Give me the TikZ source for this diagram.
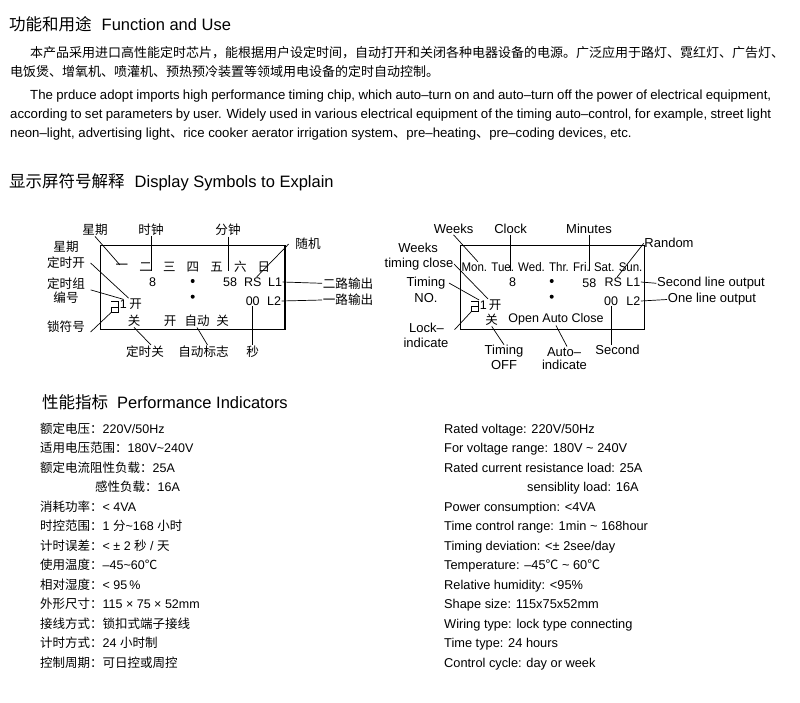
\documentclass[tikz,border=0pt]{standalone}
\usepackage{fontspec}
\setmainfont{Liberation Sans}
\newfontfamily\cjk{Noto Sans CJK SC}
\newfontfamily\narrow[FakeStretch=0.92]{Liberation Sans}

\newcommand*{\rowtop}{433.3}
\newcommand*{\rowgap}{19.5}
\newcommand*{\lockglyph}[1]{%
	\draw[lead] (#1.north west) -- (#1.north east) -- (#1.south east)
		-- (#1.south west) -- (#1.west) -- (#1.east);}
\newcommand*{\tightspace}{\spaceskip=0.278em plus 0.3em minus 0.16em}

\begin{document}
\begin{tikzpicture}
[
	x=1pt, y=-1pt,
	head/.style={anchor=base west, inner sep=0pt, font=\fontsize{16.5}{20}\selectfont},
	body/.style={anchor=base west, inner sep=0pt, font=\fontsize{13.2}{19}\selectfont},
	item/.style={anchor=base west, inner sep=0pt, font=\fontsize{12.5}{15}\selectfont},
	zhlab/.style={inner sep=0.5pt, font=\cjk\fontsize{12.6}{15}\selectfont},
	enlab/.style={inner sep=0.5pt, font=\fontsize{13}{15}\selectfont},
	zhlcd/.style={inner sep=0.5pt, font=\cjk\fontsize{12.5}{15}\selectfont},
	enlcd/.style={inner sep=0.5pt, font=\fontsize{12.5}{15}\selectfont},
	screen/.style={draw, line width=1.1pt, minimum width=184.3pt, minimum height=83.6pt, inner sep=0pt},
	dot/.style={circle, fill, inner sep=0pt, minimum size=4pt},
	lockmark/.style={minimum width=6.7pt, minimum height=10pt, inner sep=0pt},
	lead/.style={line width=0.7pt}
]

	\useasboundingbox (0,0) rectangle (800,703);

	% function and use
	\node[head] (fnhead) at (9,31) {{\cjk 功能和用途}\hspace{10pt}Function and Use};
	\node[body, font=\cjk\fontsize{13}{19}\selectfont] (zhpar1) at (30,57.4)
		{本产品采用进口高性能定时芯片，能根据用户设定时间，自动打开和关闭各种电器设备的电源。广泛应用于路灯、霓红灯、广告灯、};
	\node[body, font=\cjk\fontsize{13}{19}\selectfont] (zhpar2) at (10,77)
		{电饭煲、增氧机、喷灌机、预热预冷装置等领域用电设备的定时自动控制。};
	\node[body] (enpar1) at (30,99.5)
		{\hbox to 741pt{\tightspace The prduce adopt imports high performance timing chip, which auto–turn on and auto–turn off the power of electrical equipment,}};
	\node[body] (enpar2) at (10,118.5)
		{\hbox to 761pt{\tightspace according to set parameters by user. Widely used in various electrical equipment of the timing auto–control, for example, street light}};
	\node[body] (enpar3) at (10,137.5)
		{neon–light, advertising light{\cjk 、}rice cooker aerator irrigation system{\cjk 、}pre–heating{\cjk 、}pre–coding devices, etc.};

	% display symbols
	\node[head] (dshead) at (9,187.3) {{\cjk 显示屏符号解释}\hspace{10pt}Display Symbols to Explain};

	% left screen
	\node[screen] (lcdL) at (192.85,287.5) {};
	\foreach \d [count=\i] in {一,二,三,四,五,六,日}
		\node[zhlcd] (wd\i) at ({98.3+23.67*\i},267) {\d};
	\node[enlcd] (e8L) at (152.7,282) {8};
	\node[dot] (d1L) at (192.7,281) {};
	\node[enlcd] (m58L) at (230,282) {58};
	\node[enlcd] (rsL) at (252.7,282) {RS};
	\node[enlcd] (l1L) at (275,282) {L1};
	\node[dot] (d2L) at (192.7,296.7) {};
	\node[enlcd] (s00L) at (252.7,301) {00};
	\node[enlcd] (l2L) at (274,301) {L2};
	\node[lockmark] (lkL) at (115,307) {};
	\lockglyph{lkL}
	\node[enlcd] (oneL) at (123.3,304.3) {1};
	\node[zhlcd] (kL) at (135.7,304.3) {开};
	\node[zhlcd] (gL) at (134,321) {关};
	\node[zhlcd] (oL) at (170,321) {开};
	\node[zhlcd] (zdL) at (197,321) {自动};
	\node[zhlcd] (gL2) at (222.7,321) {关};

	\node[zhlab] (xqL) at (95,230) {星期};
	\node[zhlab] (szL) at (151,230) {时钟};
	\node[zhlab] (fzL) at (228,230) {分钟};
	\node[zhlab] (sjL) at (308,244) {随机};
	\node[zhlab] (xq2L) at (66,247.3) {星期};
	\node[zhlab] (dskL) at (66,263) {定时开};
	\node[zhlab] (dszL) at (66,283.3) {定时组};
	\node[zhlab] (bhL) at (66,297.3) {编号};
	\node[zhlab] (sfL) at (66,327) {锁符号};
	\node[zhlab] (dsgL) at (145,351.5) {定时关};
	\node[zhlab] (zdbL) at (203.5,351.5) {自动标志};
	\node[zhlab] (mL) at (252.7,351.5) {秒};
	\node[zhlab] (elL) at (348,283.3) {二路输出};
	\node[zhlab] (ylL) at (348,300) {一路输出};

	\draw[lead] (xqL.south) -- ([shift={(-2,-2)}]wd1.center);
	\draw[lead] (szL.south) -- (szL.south |- wd2.base);
	\draw[lead] (fzL.south) -- (fzL.south |- wd5.base);
	\draw[lead] ([xshift=-6pt]sjL.west) -- ([xshift=4pt]rsL.north);
	\draw[lead] (l1L.east) -- (elL.west);
	\draw[lead] (l2L.east) -- (ylL.west);
	\draw[lead] (s00L.south) -- (mL.north);
	\draw[lead] ([xshift=5pt]dskL.east) -- (kL.north west);
	\draw[lead] ([xshift=5pt]dszL.south east) -- (oneL.north);
	\draw[lead] ([shift={(5,5)}]sfL.east) -- (lkL.south west);
	\draw[lead] ([xshift=6pt]dsgL.north) -- (gL.south);
	\draw[lead] ([xshift=4pt]zdbL.north) -- (zdL.south);

	% right screen
	\node[screen] (lcdR) at (552.75,287.5) {};
	\node[enlcd, font=\narrow\fontsize{12.5}{15}\selectfont] (days) at (552,267) {Mon. Tue. Wed. Thr. Fri. Sat. Sun.};
	\node[enlcd] (e8R) at (512.7,282) {8};
	\node[dot] (d1R) at (551.7,281) {};
	\node[enlcd] (m58R) at (589.3,282.7) {58};
	\node[enlcd] (rsR) at (613.3,282) {RS};
	\node[enlcd] (l1R) at (633.3,282) {L1};
	\node[dot] (d2R) at (551.7,296.7) {};
	\node[enlcd] (s00R) at (611,301) {00};
	\node[enlcd] (l2R) at (633.3,301) {L2};
	\node[lockmark] (lkR) at (475,306.3) {};
	\lockglyph{lkR}
	\node[enlcd] (oneR) at (483.3,305) {1};
	\node[zhlcd] (kR) at (495,305) {开};
	\node[zhlcd] (gR) at (491.7,320) {关};
	\node[enlcd] (opR) at (556,319) {Open Auto Close};

	\node[enlab] (wkR) at (453.5,229.3) {Weeks};
	\node[enlab] (clkR) at (510.5,229.3) {Clock};
	\node[enlab] (minR) at (589,229.3) {Minutes};
	\node[enlab] (rdR) at (669,243.3) {Random};
	\node[enlab] (wR) at (418,247.7) {Weeks};
	\node[enlab] (tcR) at (419,264) {timing close};
	\node[enlab] (tmR) at (426,283) {Timing};
	\node[enlab] (noR) at (426,298.3) {NO.};
	\node[enlab] (lckR) at (426.5,327.7) {Lock–};
	\node[enlab] (indR) at (426,342.7) {indicate};
	\node[enlab] (toR) at (504,351.5) {Timing};
	\node[enlab] (offR) at (504,365) {OFF};
	\node[enlab] (auR) at (564,351.7) {Auto–};
	\node[enlab] (ind2R) at (564.5,365) {indicate};
	\node[enlab] (secR) at (617.5,350) {Second};
	\node[enlab] (slR) at (711,283.3) {Second line output};
	\node[enlab] (olR) at (712,299.5) {One line output};

	\draw[lead] (wkR.south) -- ([xshift=17pt]days.north west);
	\draw[lead] (clkR.south) -- (clkR.south |- days.base);
	\draw[lead] (minR.south) -- (minR.south |- days.base);
	\draw[lead] (rdR.west) -- ([xshift=4pt]rsR.north);
	\draw[lead] (l1R.east) -- (slR.west);
	\draw[lead] (l2R.east) -- (olR.west);
	\draw[lead] (s00R.south) -- (s00R.south |- secR.north);
	\draw[lead] (tcR.east) -- (kR.north west);
	\draw[lead] ([xshift=3pt]tmR.east) -- (oneR.north west);
	\draw[lead] ([shift={(10,2)}]lckR.east) -- (lkR.south west);
	\draw[lead] (toR.north) -- (gR.south);
	\draw[lead] ([xshift=3pt]auR.north) -- (opR.south);

	% performance indicators
	\node[head] (pfhead) at (42,408.3) {{\cjk 性能指标}\hspace{9pt}Performance Indicators};
	\foreach \txt [count=\i from 0] in {
		{\cjk 额定电压：}220V/50Hz,
		{\cjk 适用电压范围：}180V\textasciitilde 240V,
		{\cjk 额定电流阻性负载：}25A,
		\hspace{55pt}{\cjk 感性负载：}16A,
		{\cjk 消耗功率：}< 4VA,
		{\cjk 时控范围：}1 {\cjk 分}\textasciitilde 168 {\cjk 小时},
		{\cjk 计时误差：}< ± 2 {\cjk 秒} / {\cjk 天},
		{\cjk 使用温度：}–45\textasciitilde 60{\cjk ℃},
		{\cjk 相对湿度：}< 95\,\%,
		{\cjk 外形尺寸：}115 × 75 × 52mm,
		{\cjk 接线方式：锁扣式端子接线},
		{\cjk 计时方式：}24 {\cjk 小时制},
		{\cjk 控制周期：可日控或周控}}
		\node[item] (zh\i) at (40,{\rowtop+\rowgap*\i}) {\txt};
	\foreach \txt [count=\i from 0] in {
		Rated voltage: 220V/50Hz,
		For voltage range: 180V \textasciitilde\ 240V,
		Rated current resistance load: 25A,
		\hspace{83pt}sensiblity load: 16A,
		Power consumption: <4VA,
		Time control range: 1min \textasciitilde\ 168hour,
		Timing deviation: <± 2see/day,
		Temperature: –45{\cjk ℃} \textasciitilde\ 60{\cjk ℃},
		Relative humidity: <95\%,
		Shape size: 115x75x52mm,
		Wiring type: lock type connecting,
		Time type: 24 hours,
		Control cycle: day or week}
		\node[item, font=\fontsize{12.8}{15}\selectfont] (en\i) at (444,{\rowtop+\rowgap*\i}) {\txt};

\end{tikzpicture}
\end{document}
